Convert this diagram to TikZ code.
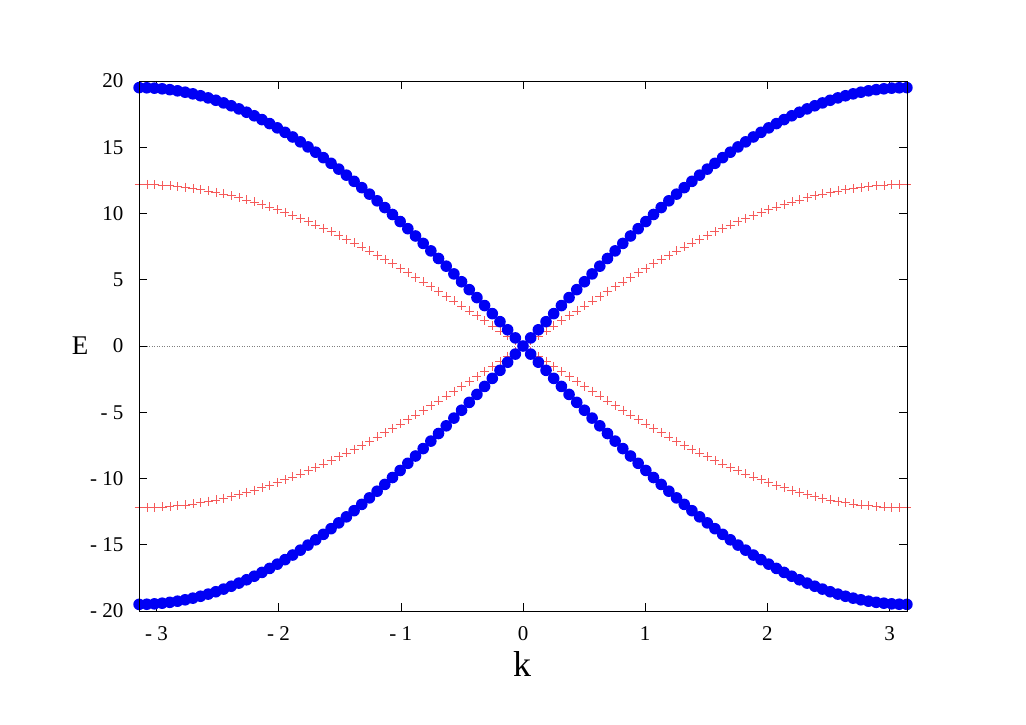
\documentclass[tikz,border=0pt]{standalone}
\usepackage{fontspec}
\setmainfont{Liberation Serif}
\begin{document}
\begin{tikzpicture}[x=1pt,y=-1pt,
  tick/.style={line width=0.6pt},
  ticklab/.style={font=\fontsize{21}{21}\selectfont},
  bluedot/.style={fill={rgb,255:red,0;green,0;blue,245}},
  redplus/.style={draw={rgb,255:red,245;green,90;blue,90},line width=0.45pt}]
\useasboundingbox (0,0) rectangle (1026,725);
% zero line
\draw[gray,dotted,line width=0.5pt] (139,346) -- (907,346);
% ticks
\foreach \v in {-20,-15,...,20}{
  \pgfmathsetmacro\yy{346-13.25*\v}
  \draw[tick] (139,\yy) -- (147,\yy) (907,\yy) -- (899,\yy);
}
\foreach \v/\t in {-20/{- 20},-15/{- 15},-10/{- 10},-5/{- 5},0/0,5/5,10/10,15/15,20/20}{
  \pgfmathsetmacro\yy{346-13.25*\v}
  \node[ticklab,anchor=east] (yl\v) at (127,\yy) {\t};
}
\foreach \v/\t in {-3/{- 3},-2/{- 2},-1/{- 1},0/0,1/1,2/2,3/3}{
  \pgfmathsetmacro\xx{523+122.2*\v}
  \draw[tick] (\xx,611) -- (\xx,603) (\xx,81) -- (\xx,89);
  \node[ticklab] (xl\v) at (\xx,634) {\t};
}
% red pluses
\foreach \i in {0,...,100}{
  \pgfmathsetmacro\k{-pi+2*pi*\i/100}
  \pgfmathsetmacro\xx{523+122.2*\k}
  \pgfmathsetmacro\ya{346-13.25*12.2*sin(\k/2 r)}
  \pgfmathsetmacro\yb{346+13.25*12.2*sin(\k/2 r)}
  \draw[redplus] (\xx-4.5,\ya) -- (\xx+4.5,\ya) (\xx,\ya-4.5) -- (\xx,\ya+4.5)
                 (\xx-4.5,\yb) -- (\xx+4.5,\yb) (\xx,\yb-4.5) -- (\xx,\yb+4.5);
}
% blue dots
\foreach \i in {0,...,100}{
  \pgfmathsetmacro\k{-pi+2*pi*\i/100}
  \pgfmathsetmacro\xx{523+122.2*\k}
  \pgfmathsetmacro\ya{346-13.25*19.5*sin(\k/2 r)}
  \pgfmathsetmacro\yb{346+13.25*19.5*sin(\k/2 r)}
  \fill[bluedot] (\xx,\ya) circle (5.8) (\xx,\yb) circle (5.8);
}
% frame
\draw[line width=0.8pt] (139,81) rectangle (907,611);
\node[font=\fontsize{27}{27}\selectfont] (ylab) at (80,346) {E};
\node[font=\fontsize{36}{36}\selectfont] (xlab) at (522,664) {k};
\end{tikzpicture}
\end{document}
